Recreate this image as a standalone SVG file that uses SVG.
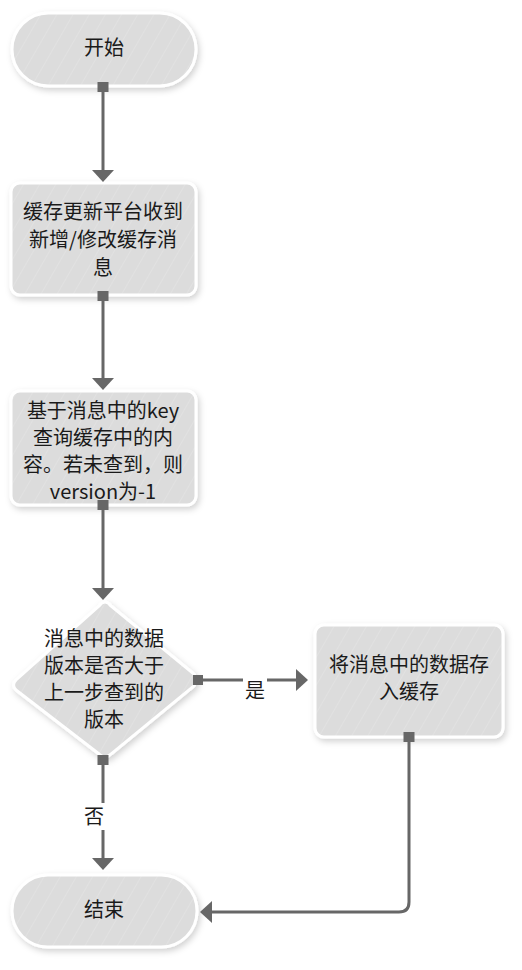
<svg xmlns="http://www.w3.org/2000/svg" width="522" height="970" viewBox="0 0 522 970">
<style>
.node{fill:url(#hatch);stroke:#ffffff;stroke-width:3;filter:url(#sh)}
.t{font-family:"Noto Sans CJK SC","Noto Sans",sans-serif;font-size:20px;fill:#1a1a1a;text-anchor:middle}
.lbl{font-family:"Noto Sans CJK SC","Noto Sans",sans-serif;font-size:20px;fill:#1a1a1a;text-anchor:middle}
.c{fill:none;stroke:#676767;stroke-width:3}
.sq{fill:#676767}
</style>
<defs>
<filter id="sh" x="-20%" y="-20%" width="140%" height="140%">
<feDropShadow dx="2" dy="3" stdDeviation="3" flood-color="#000" flood-opacity="0.18"/>
</filter>
<pattern id="hatch" width="14" height="14" patternUnits="userSpaceOnUse" patternTransform="rotate(30)">
<rect width="14" height="14" fill="#dcdcdc"/>
<line x1="0" y1="0" x2="0" y2="14" stroke="#e6e6e6" stroke-width="1"/>
</pattern>
<marker id="ah" markerWidth="22" markerHeight="22" refX="10" refY="11" orient="auto" markerUnits="userSpaceOnUse">
<path d="M0,0 L12,11 L0,22 Z" fill="#676767"/>
</marker>
</defs>
<rect width="522" height="970" fill="#ffffff"/>

<g id="start">
<rect class="node" x="12" y="13" width="184" height="73" rx="36.5"/>
<text class="t" x="104" y="55">开始</text>
</g>

<g id="recv">
<rect class="node" x="11" y="183" width="185" height="112" rx="9"/>
<text class="t" x="103" y="219">缓存更新平台收到</text>
<text class="t" x="103" y="247">新增/修改缓存消</text>
<text class="t" x="103" y="275">息</text>
</g>

<g id="query">
<rect class="node" x="11" y="391" width="185" height="114" rx="9"/>
<text class="t" x="103" y="418">基于消息中的key</text>
<text class="t" x="103" y="445">查询缓存中的内</text>
<text class="t" x="103" y="472">容。若未查到，则</text>
<text class="t" x="103" y="499">version为-1</text>
</g>

<g id="decide">
<path class="node" d="M105,602 Q108,602 111,606 L194,674 Q198,680 194,686 L111,754 Q105,760 99,754 L16,690 Q11,685 16,680 L99,606 Q102,602 105,602 Z"/>
<text class="t" x="104" y="646">消息中的数据</text>
<text class="t" x="104" y="673">版本是否大于</text>
<text class="t" x="104" y="700">上一步查到的</text>
<text class="t" x="104" y="727">版本</text>
</g>

<g id="store">
<rect class="node" x="315" y="625" width="188" height="112" rx="9"/>
<text class="t" x="409" y="672">将消息中的数据存</text>
<text class="t" x="409" y="699">入缓存</text>
</g>

<g id="end">
<rect class="node" x="12" y="875" width="185" height="72" rx="36"/>
<text class="t" x="104" y="917">结束</text>
</g>

<g id="connectors">
<line class="c" x1="103" y1="88" x2="103" y2="180" marker-end="url(#ah)"/>
<rect class="sq" x="97.5" y="82" width="11" height="10"/>
<line class="c" x1="103" y1="296" x2="103" y2="388" marker-end="url(#ah)"/>
<rect class="sq" x="97.5" y="291" width="11" height="10"/>
<line class="c" x1="103" y1="505" x2="103" y2="598" marker-end="url(#ah)"/>
<rect class="sq" x="97.5" y="500" width="11" height="10"/>
<path class="c" d="M103,762 V803 M103,830 V868" marker-end="url(#ah)"/>
<rect class="sq" x="97.5" y="755" width="11" height="10"/>
<text class="lbl" x="94" y="824">否</text>
<path class="c" d="M198,680 H243 M267,680 H306" marker-end="url(#ah)"/>
<rect class="sq" x="193" y="675" width="10" height="10"/>
<text class="lbl" x="255" y="698">是</text>
<path class="c" d="M409,737 V902 Q409,912 399,912 H202" marker-end="url(#ah)"/>
<rect class="sq" x="403.5" y="732" width="11" height="10"/>
</g>
</svg>
